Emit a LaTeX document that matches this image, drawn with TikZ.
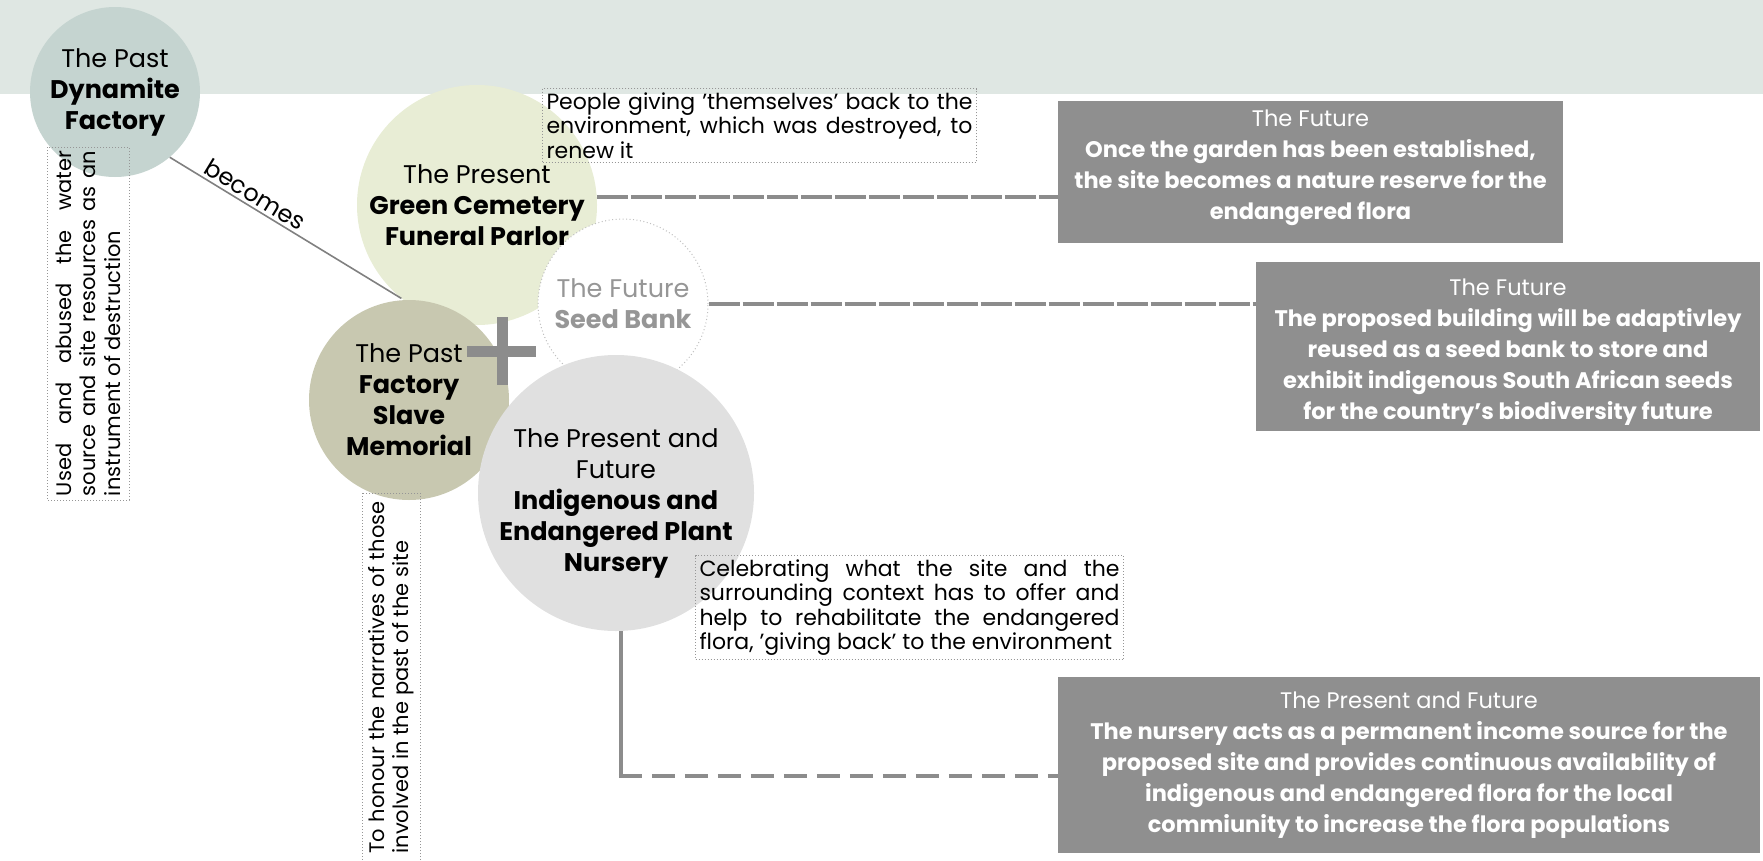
\documentclass[tikz,border=0pt]{standalone}
\usepackage{fontspec}
\setmainfont{Poppins}
\usetikzlibrary{calc}

\definecolor{band}{RGB}{223,231,227}
\definecolor{dynfill}{RGB}{197,212,208}
\definecolor{greenfill}{RGB}{232,237,213}
\definecolor{slavefill}{RGB}{200,200,176}
\definecolor{nurseryfill}{RGB}{224,224,224}
\definecolor{boxgray}{RGB}{143,143,143}
\definecolor{linkgray}{RGB}{140,140,140}
\definecolor{fadetext}{RGB}{150,150,150}
\definecolor{dotgray}{RGB}{150,150,150}

% one fully justified line of a note
\newcommand\jstline[2]{\makebox[#1][s]{#2}}

\begin{document}
\begin{tikzpicture}[x=1pt,y=-1pt,
  phasetext/.style={align=center, font=\fontsize{25.5}{31}\selectfont},
  phase/.style={circle, inner sep=-60pt, phasetext},
  note/.style={draw=dotgray, line width=1pt, dash pattern=on 1pt off 2pt,
    inner sep=4pt, align=left, font=\fontsize{22}{24.5}\selectfont},
  sidenote/.style={note, rotate=90, font=\fontsize{21}{24.5}\selectfont},
  future/.style={fill=boxgray, text=white, align=center, inner sep=0pt,
    font=\fontsize{22.5}{31}\selectfont},
  link/.style={draw=linkgray, line width=4pt, dash pattern=on 31pt off 3pt},
  linkwide/.style={draw=linkgray, line width=4pt, dash pattern=on 23pt off 10pt},
  linksolid/.style={draw=linkgray, line width=4pt},
  becomesline/.style={draw=gray, line width=1.6pt}
]
\useasboundingbox (0,0) rectangle (1763,860);

% header band
\fill[band] (0,0) rectangle (1763,94);

% phase circles
\node[phase, fill=dynfill, minimum size=170pt] (dyn) at (115,92)
  {The Past\\\textbf{Dynamite}\\\textbf{Factory}};
\node[phase, fill=greenfill, minimum size=240pt] (green) at (477,205) {};
\node[phase, fill=white, draw=dotgray!60, line width=1pt,
  dash pattern=on 1pt off 2.5pt, minimum size=170pt, text=fadetext] (seed) at (623,304)
  {The Future\\\textbf{Seed Bank}};
\node[phasetext] (greentext) at (green.center)
  {The Present\\\textbf{Green Cemetery}\\\textbf{Funeral Parlor}};
\node[phase, fill=slavefill, minimum size=200pt] (slave) at (409,400)
  {The Past\\\textbf{Factory}\\\textbf{Slave}\\\textbf{Memorial}};
\node[phase, fill=nurseryfill, minimum size=276pt] (nursery) at (616,493)
  {\rule{0pt}{39pt}The Present and\\Future\\\textbf{Indigenous and}\\\textbf{Endangered Plant}\\\textbf{Nursery}};

% plus sign
\fill[linkgray] (467,346) rectangle (536,357);
\fill[linkgray] (497,317) rectangle (508,385);

% dynamite factory becomes the new programme
\draw[becomesline] (dyn.-50) -- node[pos=0.34, sloped, above, inner sep=3pt,
  font=\fontsize{24}{26}\selectfont] {becomes} (green.-129);

% notes
\node[note, anchor=north west] (people) at (542,88)
  {\jstline{426pt}{People giving 'themselves' back to the}\\
   \jstline{426pt}{environment, which was destroyed, to}\\
   renew it};
\node[sidenote, minimum height=82pt] (used) at (88,323.5)
  {\jstline{345pt}{Used and abused the water}\\
   \jstline{345pt}{source and site resources as an}\\
   instrument of destruction};
\node[sidenote, minimum height=58pt, minimum width=369pt] (honour) at (391,677.5)
  {\jstline{352pt}{To honour the narratives of those}\\
   involved in the past of the site};
\node[note, anchor=north west] (celebrate) at (695,555)
  {\jstline{420pt}{Celebrating what the site and the}\\
   \jstline{420pt}{surrounding context has to offer and}\\
   \jstline{420pt}{help to rehabilitate the endangered}\\
   flora, 'giving back' to the environment};

% future boxes
\node[future, minimum width=505pt, minimum height=142pt] (futA) at (1310.5,172)
  {The Future\\\textbf{Once the garden has been established,}\\\textbf{the site becomes a nature reserve for the}\\\textbf{endangered flora}\rule[-15.6pt]{0pt}{0pt}};
\node[future, minimum width=504pt, minimum height=169pt] (futB) at (1508,346.5)
  {\rule{0pt}{28.6pt}The Future\\\textbf{The proposed building will be adaptivley}\\\textbf{reused as a seed bank to store and}\\\textbf{exhibit indigenous South African seeds}\\\textbf{for the country's biodiversity future}};
\node[future, minimum width=702pt, minimum height=176pt] (futC) at (1409,765)
  {The Present and Future\\\textbf{The nursery acts as a permanent income source for the}\\\textbf{proposed site and provides continuous availability of}\\\textbf{indigenous and endangered flora for the local}\\\textbf{commiunity to increase the flora populations}};

% connectors to the future boxes
\draw[link] (green.4) -- (green.4 -| futA.west);
\draw[link] (seed.east) -- (seed.east -| futB.west);
\path (nursery.-88) |- ([yshift=-11pt]futC.west) coordinate[pos=0.5] (elbow);
\draw[linksolid] (nursery.-88) -- ([yshift=2pt]elbow);
\draw[linkwide] ([xshift=-2pt]elbow) -- (elbow -| futC.west);
\end{tikzpicture}
\end{document}
